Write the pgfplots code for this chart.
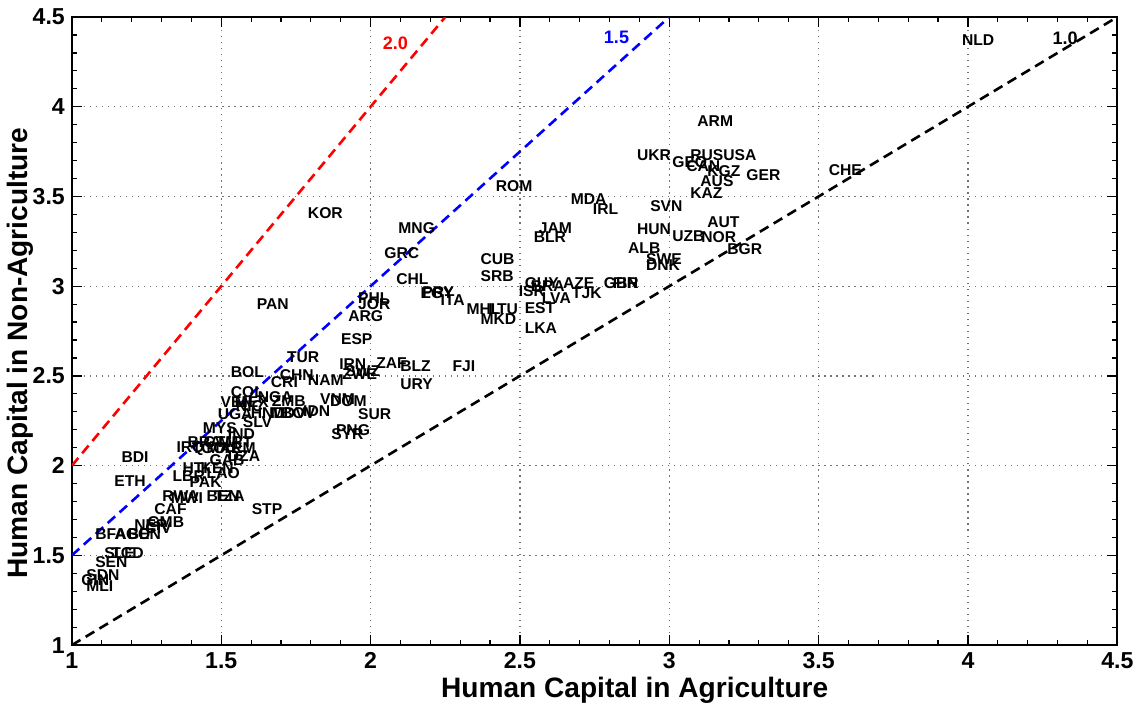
\documentclass[border=0pt]{standalone}
\usepackage{fontspec}
\setmainfont{Liberation Sans}
\usepackage{pgfplots}
\usepackage{pgfplotstable}
\pgfplotsset{compat=1.18}
\pgfplotstableread{
x y label
3.979 4.371 NLD
3.093 3.919 ARM
2.891 3.729 UKR
3.069 3.729 RUS
3.180 3.729 USA
3.009 3.690 GEO
3.056 3.667 CAN
3.126 3.639 KGZ
3.103 3.583 AUS
3.257 3.617 GER
3.069 3.516 KAZ
3.533 3.645 CHE
2.935 3.444 SVN
2.669 3.483 MDA
2.743 3.427 IRL
2.418 3.555 ROM
2.891 3.315 HUN
3.126 3.354 AUT
3.009 3.276 UZB
3.106 3.276 NOR
3.193 3.209 BGR
2.861 3.214 ALB
2.921 3.153 SWE
2.921 3.119 DNK
2.562 3.326 JAM
2.545 3.276 BLR
2.367 3.153 CUB
2.367 3.058 SRB
2.515 3.019 GUY
2.643 3.019 AZE
2.673 2.963 TJK
2.780 3.019 GBR
2.810 3.019 FIN
2.495 2.974 ISR
2.535 3.000 BRA
2.572 2.935 LVA
2.515 2.879 EST
2.515 2.767 LKA
2.394 2.874 LTU
2.320 2.874 MHL
2.367 2.817 MKD
2.233 2.924 ITA
2.166 2.963 EGY
2.172 2.968 PRY
2.085 3.041 CHL
2.045 3.186 GRC
2.092 3.321 MNG
1.789 3.410 KOR
1.618 2.901 PAN
1.957 2.935 PHL
1.957 2.901 JOR
1.924 2.834 ARG
1.900 2.706 ESP
1.719 2.605 TUR
1.894 2.566 IRN
1.914 2.527 SWZ
1.904 2.510 ZWE
2.018 2.572 ZAF
2.098 2.555 BLZ
2.098 2.454 URY
2.273 2.555 FJI
1.695 2.504 CHN
1.789 2.477 NAM
1.665 2.465 CRI
1.531 2.521 BOL
1.531 2.409 COL
1.621 2.381 NGA
1.668 2.359 ZMB
1.497 2.353 VEN
1.544 2.353 MEX
1.548 2.331 NIC
1.830 2.370 VNM
1.863 2.359 DOM
1.773 2.303 IDN
1.487 2.286 UGA
1.598 2.292 HND
1.665 2.292 MDV
1.700 2.292 BOV
1.957 2.286 SUR
1.571 2.242 SLV
1.867 2.175 SYR
1.883 2.197 PNG
1.437 2.208 MYS
1.521 2.175 IND
1.386 2.130 BRA
1.440 2.130 GTM
1.490 2.130 MRT
1.349 2.096 IRQ
1.400 2.096 TGO
1.450 2.096 MAR
1.500 2.096 YEM
1.521 2.052 DZA
1.460 2.029 GAB
1.369 1.985 HTI
1.336 1.940 LBR
1.430 1.985 KEN
1.450 1.960 LAO
1.393 1.906 PAK
1.450 1.830 BEN
1.475 1.830 TZA
1.302 1.828 RWA
1.330 1.818 MWI
1.275 1.756 CAF
1.252 1.683 GMB
1.208 1.666 NER
1.245 1.650 CIV
1.077 1.621 BFA
1.142 1.621 AGO
1.186 1.621 BEN
1.107 1.515 SLE
1.131 1.515 TCD
1.077 1.465 SEN
1.047 1.392 SDN
1.030 1.364 GIN
1.047 1.331 MLI
1.141 1.912 ETH
1.165 2.046 BDI
1.601 1.756 STP
}\countries
\begin{document}
\begin{tikzpicture}
\begin{axis}[
  scale only axis,
  width=521pt, height=313pt,
  xmin=1, xmax=4.5, ymin=1, ymax=4.5,
  xtick={1,1.5,...,4.5}, ytick={1,1.5,...,4.5},
  xticklabels={1,1.5,2,2.5,3,3.5,4,4.5},
  yticklabels={1,1.5,2,2.5,3,3.5,4,4.5},
  minor tick num=4,
  tick align=inside,
  major tick length=5pt, minor tick length=2.5pt,
  grid=major,
  major grid style={dash pattern=on 0.6pt off 2.4pt, gray!90!black, line width=0.6pt},
  axis line style={line width=0.8pt},
  every tick/.style={black, line width=0.6pt},
  ticklabel style={font=\fontsize{11.5}{12}\selectfont\bfseries},
  xlabel={Human Capital in Agriculture},
  ylabel={Human Capital in Non-Agriculture},
  label style={font=\fontsize{14}{15}\selectfont\bfseries},
  xlabel style={yshift=2.5pt, xshift=20pt},
  ylabel style={yshift=-7pt, xshift=-11pt},
  clip=true,
]
\addplot[black, line width=1.3pt, dash pattern=on 5pt off 3pt] coordinates {(1,1) (4.5,4.5)};
\addplot[blue, line width=1.3pt, dash pattern=on 5pt off 3pt] coordinates {(1,1.5) (3,4.5)};
\addplot[red, line width=1.3pt, dash pattern=on 5pt off 3pt] coordinates {(1,2) (2.25,4.5)};
\addplot[only marks, mark=none, nodes near coords, point meta=explicit symbolic,
  nodes near coords style={anchor=west, inner sep=0pt, font=\fontsize{7.8}{8}\selectfont\bfseries, text=black}]
  table[x=x, y=y, meta=label] {\countries};
\node[anchor=west, inner sep=0pt, text=red, font=\fontsize{9}{10}\selectfont\bfseries] at (axis cs:2.040,4.355) {2.0};
\node[anchor=west, inner sep=0pt, text=blue, font=\fontsize{9}{10}\selectfont\bfseries] at (axis cs:2.780,4.388) {1.5};
\node[anchor=west, inner sep=0pt, text=black, font=\fontsize{9}{10}\selectfont\bfseries] at (axis cs:4.282,4.383) {1.0};
\end{axis}
\path ([yshift=8.5pt]current axis.north);
\path ([yshift=-28.5pt]current axis.south);
\end{tikzpicture}
\end{document}
